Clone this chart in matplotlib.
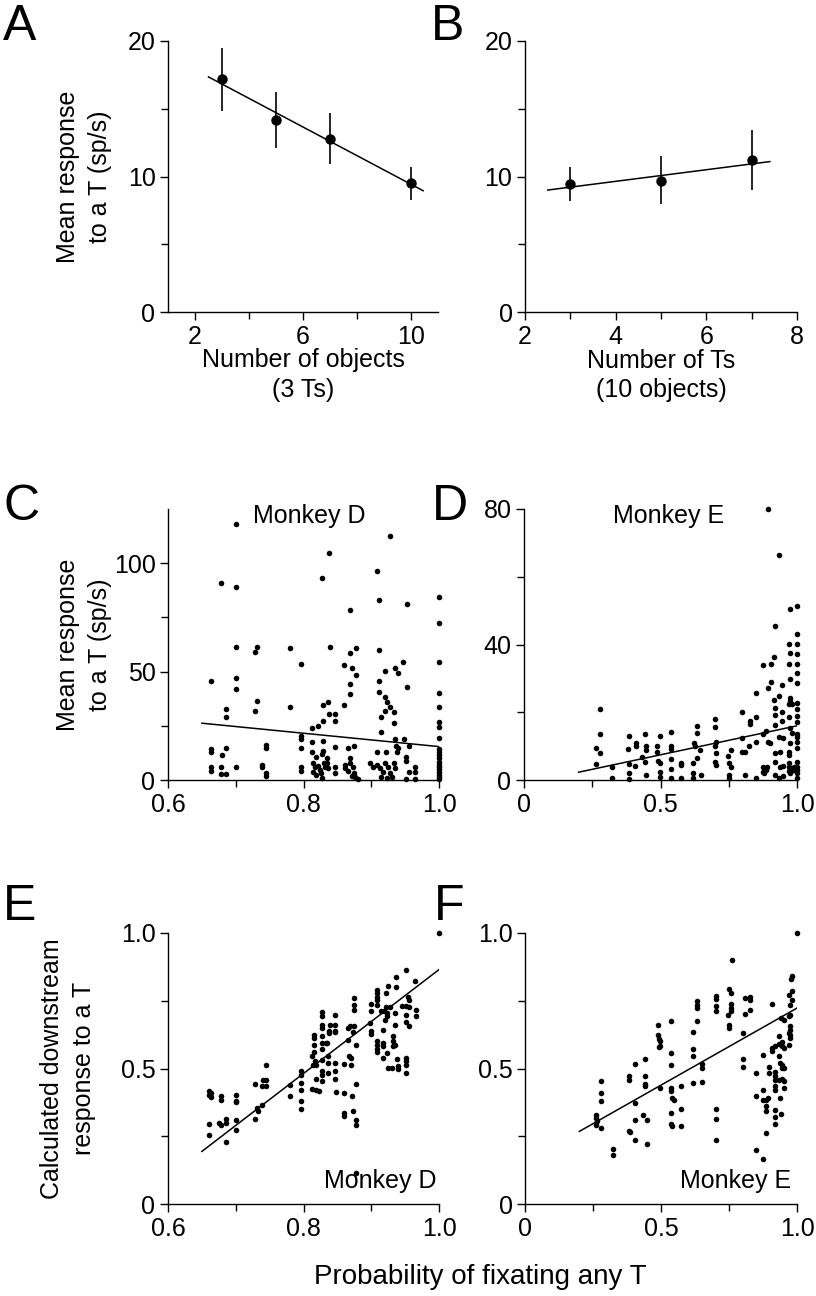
import numpy as np
import matplotlib
matplotlib.use("Agg")
import matplotlib.pyplot as plt
from matplotlib.ticker import FixedLocator

plt.rcParams['font.family'] = ['Liberation Sans', 'DejaVu Sans']

# ---- panel A: number of objects (3 Ts) ----
a_x = [3, 5, 7, 10]
a_mean = [17.2, 14.2, 12.8, 9.5]
a_lo = [14.8, 12.1, 10.9, 8.3]
a_hi = [19.5, 16.2, 14.7, 10.7]
a_fit_x = [2.5, 10.45]
a_fit_y = [17.35, 8.95]

# ---- panel B: number of Ts (10 objects) ----
b_x = [3, 5, 7]
b_mean = [9.45, 9.7, 11.2]
b_lo = [8.2, 8.0, 9.0]
b_hi = [10.7, 11.5, 13.4]
b_fit_x = [2.5, 7.4]
b_fit_y = [9.0, 11.1]

# ---- panel C: monkey D, response vs probability ----
c_x = [0.70, 0.927, 0.837, 0.678, 0.70, 0.827, 0.909, 0.911, 0.953, 1.0, 1.0, 0.868,
       0.70, 0.732, 0.728, 0.780, 0.839, 0.868, 0.878, 0.911, 0.796, 0.860, 0.872, 0.878,
       0.920, 0.935, 0.939, 0.947, 1.0, 0.663, 0.70, 0.70, 0.868, 0.868, 0.911, 0.911,
       0.953, 1.0, 0.732, 0.728, 0.686, 0.686, 0.780, 0.829, 0.836, 0.860, 0.838, 0.847,
       0.847, 0.829, 0.813, 0.822, 0.921, 0.923, 0.928, 0.920, 0.934, 0.915, 0.933, 0.915,
       1.0, 1.0, 1.0, 1.0, 0.796, 0.796, 0.796, 0.796, 0.796, 0.813, 0.813, 0.829,
       0.829, 0.663, 0.663, 0.680, 0.686, 0.663, 0.663, 0.678, 0.678, 0.686, 0.70, 0.744,
       0.744, 0.739, 0.739, 0.744, 0.744, 0.846, 0.847, 0.847, 0.865, 0.875, 0.861, 0.868,
       0.873, 0.875, 0.880, 0.935, 0.948, 0.936, 0.940, 0.955, 0.909, 0.922, 0.938, 0.951,
       0.952, 0.965, 0.965, 0.955, 0.952, 0.965,
       0.814, 0.817, 0.814, 0.818, 0.822, 0.824, 0.826, 0.828, 0.830, 0.831, 0.834, 0.835,
       0.836, 0.828, 0.819, 0.898, 0.903, 0.909, 0.913, 0.918, 0.920, 0.925, 0.928, 0.930,
       0.933, 0.935, 0.923, 0.915, 0.861, 0.866, 0.871, 0.876, 0.868,
       1.0, 1.0, 1.0, 1.0, 1.0, 1.0, 1.0, 1.0, 1.0, 1.0, 1.0, 1.0]
c_y = [118.2, 112.6, 104.9, 90.8, 88.8, 93.1, 96.5, 82.8, 81.1, 84.2, 72.3, 78.5,
       61.5, 61.5, 59.2, 61.1, 61.5, 58.5, 60.9, 59.8, 53.5, 53.2, 51.8, 48.5,
       50.2, 51.5, 49.2, 54.6, 54.2, 45.8, 46.9, 42.0, 44.2, 39.8, 45.5, 40.8,
       43.1, 40.0, 36.6, 31.7, 32.6, 29.2, 33.5, 34.6, 36.2, 34.5, 30.3, 30.3,
       27.4, 27.4, 23.8, 25.1, 38.5, 36.2, 33.8, 32.0, 31.5, 28.9, 26.5, 22.3,
       33.5, 26.9, 24.3, 19.5, 20.3, 18.8, 14.6, 5.8, 4.2, 17.4, 13.1, 18.0,
       13.5, 14.2, 13.1, 11.5, 14.9, 5.8, 4.3, 6.2, 2.8, 2.8, 5.8, 16.2,
       14.6, 6.9, 5.8, 3.1, 1.8, 15.1, 6.2, 3.1, 14.9, 15.7, 6.9, 8.0,
       6.2, 3.1, 0.3, 18.8, 18.8, 15.8, 14.6, 15.8, 12.8, 13.1, 13.1, 10.5,
       8.8, 6.2, 3.8, 3.8, 0.3, 0.6,
       7.7, 5.8, 3.8, 2.3, 6.5, 4.6, 3.1, 0.8, 8.0, 5.8, 10.0, 8.0,
       5.4, 12.0, 10.8, 7.7, 6.2, 6.9, 5.4, 3.8, 7.7, 5.8, 3.1, 1.5,
       8.0, 5.4, 1.1, 1.5, 5.4, 4.3, 1.8, 1.5, 10.0,
       0.5, 1.5, 2.5, 3.5, 5.0, 6.0, 7.0, 8.5, 10.0, 11.5, 13.0, 14.5]
c_fit_x = [0.65, 1.0]
c_fit_y = [26.2, 15.4]

# ---- panel D: monkey E, response vs probability ----
d_x = [0.28, 0.28, 0.262, 0.28, 0.262, 0.324, 0.324, 0.384, 0.380, 0.409, 0.409, 0.385,
       0.405, 0.385, 0.384, 0.433, 0.443, 0.446, 0.448, 0.443, 0.448, 0.497, 0.489, 0.489,
       0.491, 0.497, 0.497, 0.497, 0.537, 0.537, 0.539, 0.537, 0.538, 0.538, 0.574, 0.574,
       0.574, 0.621, 0.626, 0.618, 0.618, 0.618, 0.635, 0.635, 0.645, 0.635, 0.650, 0.701,
       0.701, 0.704, 0.701, 0.702, 0.701, 0.702, 0.748, 0.760, 0.750, 0.760, 0.750, 0.750,
       0.800, 0.800, 0.800, 0.810, 0.809, 0.825, 0.828, 0.828, 0.850, 0.850, 0.850, 0.850,
       0.874, 0.877, 0.874, 0.877, 0.879, 0.895, 0.887, 0.895, 0.895, 0.901, 0.889, 0.887,
       0.905, 0.905, 0.917, 0.917, 0.920, 0.920, 0.920, 0.920, 0.920, 0.920, 0.920, 0.933,
       0.933, 0.933, 0.939, 0.939, 0.946, 0.946, 0.946, 0.947, 0.947, 0.947, 0.933, 0.970,
       0.970, 0.976, 0.976, 0.976, 0.976, 0.976, 0.970, 0.970, 0.976, 0.976, 0.970, 0.970,
       0.970, 0.970, 0.970, 0.976, 0.982, 0.982, 1.0, 1.0, 1.0, 1.0, 1.0, 1.0,
       1.0, 1.0, 1.0, 1.0, 1.0, 1.0, 1.0, 1.0, 1.0, 1.0, 1.0, 1.0,
       1.0, 1.0, 0.988, 0.985]
d_y = [21.1, 13.6, 9.3, 7.9, 4.8, 3.9, 0.7, 13.0, 9.1, 10.8, 9.9, 4.7,
       4.1, 2.2, 0.3, 6.7, 13.5, 9.9, 8.9, 5.4, 1.6, 13.0, 10.1, 8.4,
       5.6, 5.1, 2.3, 1.0, 14.1, 9.9, 9.1, 6.2, 3.3, 0.7, 5.1, 4.3,
       0.7, 10.8, 9.9, 4.9, 2.0, 0.7, 15.8, 13.8, 8.9, 6.4, 1.5, 17.9,
       15.6, 11.3, 9.9, 7.9, 5.4, 4.4, 7.1, 8.9, 4.9, 3.9, 1.5, 0.7,
       20.2, 12.5, 8.4, 8.4, 1.5, 9.9, 17.5, 16.5, 18.5, 11.2, 25.6, 0.7,
       33.9, 13.6, 3.7, 2.5, 2.0, 80.1, 14.6, 27.1, 11.3, 10.8, 3.7, 3.0,
       28.8, 34.2, 36.2, 23.6, 21.2, 19.2, 16.3, 7.9, 5.4, 1.5, 45.5, 66.3,
       24.8, 12.6, 8.4, 3.7, 28.1, 20.0, 17.5, 12.5, 4.1, 1.2, 0.7, 34.3,
       40.2, 50.4, 37.4, 29.8, 24.1, 23.2, 22.5, 18.5, 15.3, 11.0, 8.4, 7.4,
       5.1, 3.7, 2.8, 2.0, 13.8, 22.5, 51.4, 43.1, 40.2, 37.1, 34.2, 31.7,
       28.6, 22.7, 21.1, 19.0, 17.0, 13.5, 12.6, 11.3, 9.4, 5.4, 3.7, 3.0,
       2.0, 0.7, 3.7, 3.0]
d_fit_x = [0.2, 1.0]
d_fit_y = [2.3, 16.0]

# ---- panel E: monkey D, calculated downstream response ----
e_x = [1.0, 0.951, 0.936, 0.965, 0.925, 0.936, 0.909, 0.909, 0.922, 0.909, 0.909, 0.954,
       0.955, 0.900, 0.909, 0.922, 0.927, 0.946, 0.952, 0.966, 0.966, 0.952, 0.955, 0.900,
       0.914, 0.919, 0.923, 0.935, 0.923, 0.921, 0.935, 0.952, 0.955, 0.898, 0.899, 0.899,
       0.917, 0.932, 0.932, 0.935, 0.932, 0.909, 0.909, 0.917, 0.917, 0.908, 0.908, 0.923,
       0.917, 0.925, 0.930, 0.940, 0.940, 0.951, 0.951, 0.951, 0.951, 0.938,
       0.661, 0.661, 0.663, 0.664, 0.661, 0.661, 0.678, 0.678, 0.676, 0.678, 0.685, 0.685,
       0.686, 0.70, 0.70, 0.70, 0.70, 0.70, 0.729, 0.729, 0.731, 0.733, 0.739, 0.740,
       0.744, 0.744, 0.739, 0.744, 0.780, 0.780, 0.796, 0.796, 0.796, 0.796, 0.796, 0.796,
       0.813, 0.814, 0.817, 0.819, 0.815, 0.815, 0.815, 0.815, 0.812, 0.819, 0.819, 0.823,
       0.828, 0.828, 0.828, 0.828, 0.828, 0.828, 0.828, 0.828, 0.828, 0.828, 0.828, 0.833,
       0.835, 0.836, 0.836, 0.836, 0.837, 0.839, 0.837, 0.846, 0.846, 0.846, 0.847, 0.846,
       0.846, 0.846, 0.848, 0.860, 0.860, 0.860, 0.860, 0.865, 0.866, 0.869, 0.867, 0.870,
       0.870, 0.872, 0.873, 0.873, 0.875, 0.875, 0.875, 0.875, 0.877, 0.878, 0.877, 0.877,
       0.877]
e_y = [1.0, 0.865, 0.836, 0.822, 0.803, 0.800, 0.791, 0.779, 0.779, 0.764, 0.752, 0.764,
       0.754, 0.739, 0.736, 0.726, 0.726, 0.732, 0.732, 0.717, 0.692, 0.699, 0.726, 0.714,
       0.714, 0.714, 0.705, 0.705, 0.692, 0.680, 0.662, 0.670, 0.656, 0.668, 0.637, 0.627,
       0.643, 0.619, 0.600, 0.588, 0.582, 0.600, 0.588, 0.594, 0.584, 0.572, 0.560, 0.557,
       0.539, 0.502, 0.502, 0.508, 0.498, 0.539, 0.526, 0.514, 0.483, 0.535,
       0.416, 0.403, 0.395, 0.410, 0.296, 0.255, 0.400, 0.383, 0.299, 0.293, 0.314, 0.299,
       0.229, 0.401, 0.381, 0.375, 0.309, 0.272, 0.443, 0.314, 0.353, 0.342, 0.367, 0.459,
       0.459, 0.434, 0.434, 0.513, 0.440, 0.397, 0.492, 0.477, 0.446, 0.422, 0.379, 0.351,
       0.545, 0.514, 0.526, 0.514, 0.625, 0.613, 0.585, 0.560, 0.426, 0.461, 0.419, 0.416,
       0.707, 0.692, 0.662, 0.649, 0.619, 0.594, 0.572, 0.533, 0.492, 0.477, 0.453, 0.594,
       0.594, 0.545, 0.520, 0.483, 0.637, 0.659, 0.631, 0.699, 0.659, 0.637, 0.633, 0.520,
       0.490, 0.461, 0.412, 0.517, 0.410, 0.336, 0.323, 0.606, 0.649, 0.656, 0.545, 0.539,
       0.514, 0.400, 0.342, 0.633, 0.760, 0.736, 0.717, 0.656, 0.588, 0.444, 0.309, 0.290,
       0.114]
e_fit_x = [0.65, 1.0]
e_fit_y = [0.194, 0.865]

# ---- panel F: monkey E, calculated downstream response ----
f_x = [1.0, 0.762, 0.981, 0.978, 0.751, 0.758, 0.702, 0.702, 0.809, 0.826, 0.826, 0.634,
       0.634, 0.634, 0.981, 0.969, 0.981, 0.974, 0.908, 0.702, 0.702, 0.758, 0.758, 0.758,
       0.828, 0.809, 0.747, 0.975, 0.969, 0.941, 0.951, 0.634, 0.751, 0.751, 0.974, 0.974,
       0.974, 0.974, 0.969, 0.536, 0.489, 0.489, 0.492, 0.498, 0.498, 0.492, 0.618, 0.800,
       0.932, 0.969, 0.945, 0.945, 0.932, 0.951, 0.908, 0.908, 0.920, 0.618, 0.618, 0.536,
       0.443, 0.800, 0.800, 0.874, 0.932, 0.938, 0.945, 0.945, 0.951, 0.898, 0.536, 0.649,
       0.649, 0.406, 0.280, 0.280, 0.280, 0.384, 0.384, 0.443, 0.443, 0.443, 0.406, 0.498,
       0.536, 0.536, 0.539, 0.547, 0.573, 0.618, 0.649, 0.850, 0.898, 0.920, 0.920, 0.945,
       0.951, 0.920, 0.932, 0.920, 0.920, 0.951, 0.874, 0.850, 0.874, 0.887, 0.892, 0.938,
       0.887, 0.887, 0.920, 0.920, 0.941, 0.920, 0.887, 0.261, 0.261, 0.265, 0.261, 0.280,
       0.406, 0.433, 0.448, 0.382, 0.387, 0.406, 0.448, 0.536, 0.536, 0.539, 0.573, 0.573,
       0.702, 0.702, 0.702, 0.323, 0.323, 0.850, 0.874]
f_y = [1.0, 0.902, 0.840, 0.831, 0.793, 0.779, 0.769, 0.756, 0.760, 0.764, 0.752, 0.750,
       0.736, 0.723, 0.785, 0.772, 0.754, 0.736, 0.738, 0.729, 0.711, 0.739, 0.723, 0.713,
       0.717, 0.700, 0.699, 0.699, 0.692, 0.686, 0.680, 0.674, 0.659, 0.649, 0.656, 0.643,
       0.625, 0.613, 0.631, 0.674, 0.662, 0.625, 0.609, 0.600, 0.584, 0.579, 0.635, 0.631,
       0.621, 0.588, 0.597, 0.582, 0.590, 0.576, 0.576, 0.563, 0.582, 0.572, 0.547, 0.557,
       0.536, 0.535, 0.506, 0.549, 0.545, 0.520, 0.514, 0.502, 0.502, 0.506, 0.514, 0.517,
       0.502, 0.517, 0.453, 0.408, 0.379, 0.474, 0.459, 0.471, 0.444, 0.437, 0.373, 0.428,
       0.428, 0.416, 0.390, 0.385, 0.437, 0.446, 0.451, 0.483, 0.483, 0.486, 0.474, 0.461,
       0.453, 0.459, 0.459, 0.434, 0.422, 0.428, 0.422, 0.400, 0.385, 0.385, 0.391, 0.391,
       0.363, 0.342, 0.348, 0.321, 0.333, 0.295, 0.262, 0.330, 0.317, 0.305, 0.290, 0.280,
       0.309, 0.330, 0.311, 0.268, 0.264, 0.237, 0.223, 0.336, 0.295, 0.287, 0.351, 0.287,
       0.351, 0.314, 0.235, 0.203, 0.180, 0.198, 0.166]
f_fit_x = [0.2, 1.0]
f_fit_y = [0.268, 0.723]

W, H = 816, 1296
fig = plt.figure(figsize=(W / 100, H / 100), dpi=100)


def add_ax(x0, x1, ytop, ybot):
    return fig.add_axes([x0 / W, 1 - ybot / H, (x1 - x0) / W, (ybot - ytop) / H])


def style(ax, xlim, ylim, xmaj, xmin, ymaj, ymin):
    for s in ['top', 'right']:
        ax.spines[s].set_visible(False)
    for s in ['left', 'bottom']:
        ax.spines[s].set_linewidth(1.0)
    ax.set_xlim(xlim)
    ax.set_ylim(ylim)
    ax.xaxis.set_major_locator(FixedLocator(xmaj))
    ax.xaxis.set_minor_locator(FixedLocator(xmin))
    ax.yaxis.set_major_locator(FixedLocator(ymaj))
    ax.yaxis.set_minor_locator(FixedLocator(ymin))
    ax.tick_params(which='major', direction='out', length=6, width=1.0, labelsize=18, pad=3)
    ax.tick_params(which='minor', direction='out', length=5, width=1.0)


def ylab(ax, text, xpix):
    # right edge of the two-line y label at a fixed pixel column
    x0 = ax.get_position().x0 * W
    wpx = ax.get_position().width * W
    ax.set_ylabel(text, fontsize=fs, linespacing=1.4)
    ax.yaxis.set_label_coords((xpix - x0) / wpx, 0.5)


fs = 18
letter_fs = 36
dot_ms = 4.0

# A
axA = add_ax(168, 438, 41, 312)
axA.plot(a_fit_x, a_fit_y, color='black', lw=1.1)
axA.errorbar(a_x, a_mean, yerr=[np.subtract(a_mean, a_lo), np.subtract(a_hi, a_mean)],
             fmt='o', color='black', ms=6.5, elinewidth=1.2, capsize=0)
style(axA, (1, 11), (0, 20), [2, 6, 10], [4, 8], [0, 10, 20], [5, 15])
axA.set_xticklabels(['2', '6', '10'])
ylab(axA, 'Mean response\nto a T (sp/s)', 112)
axA.set_xlabel('Number of objects\n(3 Ts)', fontsize=fs, labelpad=0, linespacing=1.3)

# B
axB = add_ax(525, 797, 41, 312)
axB.plot(b_fit_x, b_fit_y, color='black', lw=1.1)
axB.errorbar(b_x, b_mean, yerr=[np.subtract(b_mean, b_lo), np.subtract(b_hi, b_mean)],
             fmt='o', color='black', ms=6.5, elinewidth=1.2, capsize=0)
style(axB, (2, 8), (0, 20), [2, 4, 6, 8], [3, 5, 7], [0, 10, 20], [5, 15])
axB.set_xlabel('Number of Ts\n(10 objects)', fontsize=fs, labelpad=0, linespacing=1.3)

# C
axC = add_ax(168, 439, 509, 780)
axC.plot(c_fit_x, c_fit_y, color='black', lw=1.1)
axC.plot(c_x, c_y, 'o', color='black', ms=dot_ms, mec='none', clip_on=False)
style(axC, (0.6, 1.0), (0, 125), [0.6, 0.8, 1.0], [0.7, 0.9], [0, 50, 100], [25, 75])
axC.set_xticklabels(['0.6', '0.8', '1.0'])
ylab(axC, 'Mean response\nto a T (sp/s)', 112)
axC.text(0.52, 0.975, 'Monkey D', transform=axC.transAxes, ha='center', va='center', fontsize=fs)

# D
axD = add_ax(524, 797, 509, 780)
axD.plot(d_fit_x, d_fit_y, color='black', lw=1.1)
axD.plot(d_x, d_y, 'o', color='black', ms=dot_ms, mec='none', clip_on=False)
style(axD, (0, 1.0), (0, 80), [0, 0.5, 1.0], [0.25, 0.75], [0, 40, 80], [20, 60])
axD.set_xticklabels(['0', '0.5', '1.0'])
axD.text(0.53, 0.975, 'Monkey E', transform=axD.transAxes, ha='center', va='center', fontsize=fs)

# E
axE = add_ax(168, 439, 933, 1204)
axE.plot(e_fit_x, e_fit_y, color='black', lw=1.1)
axE.plot(e_x, e_y, 'o', color='black', ms=dot_ms, mec='none', clip_on=False)
style(axE, (0.6, 1.0), (0, 1.0), [0.6, 0.8, 1.0], [0.7, 0.9], [0, 0.5, 1.0], [0.25, 0.75])
axE.set_xticklabels(['0.6', '0.8', '1.0'])
axE.set_yticklabels(['0', '0.5', '1.0'])
ylab(axE, 'Calculated downstream\nresponse to a T', 96)
axE.text(0.99, 0.04, 'Monkey D', transform=axE.transAxes, ha='right', va='bottom', fontsize=fs)

# F
axF = add_ax(525, 797, 933, 1204)
axF.plot(f_fit_x, f_fit_y, color='black', lw=1.1)
axF.plot(f_x, f_y, 'o', color='black', ms=dot_ms, mec='none', clip_on=False)
style(axF, (0, 1.0), (0, 1.0), [0, 0.5, 1.0], [0.25, 0.75], [0, 0.5, 1.0], [0.25, 0.75])
axF.set_xticklabels(['0', '0.5', '1.0'])
axF.set_yticklabels(['0', '0.5', '1.0'])
axF.text(0.98, 0.04, 'Monkey E', transform=axF.transAxes, ha='right', va='bottom', fontsize=fs)

fig.text(480 / W, 1 - 1277 / H, 'Probability of fixating any T', ha='center', va='center', fontsize=20)

# panel letters (baseline at the bottom of the capitals)
for lab, px, py in [('A', 3, 40), ('B', 431, 40), ('C', 3, 520), ('D', 432, 520),
                    ('E', 3, 920), ('F', 434, 920)]:
    fig.text(px / W, 1 - py / H, lab, ha='left', va='baseline', fontsize=letter_fs)

fig.savefig('out.png', dpi=100)
